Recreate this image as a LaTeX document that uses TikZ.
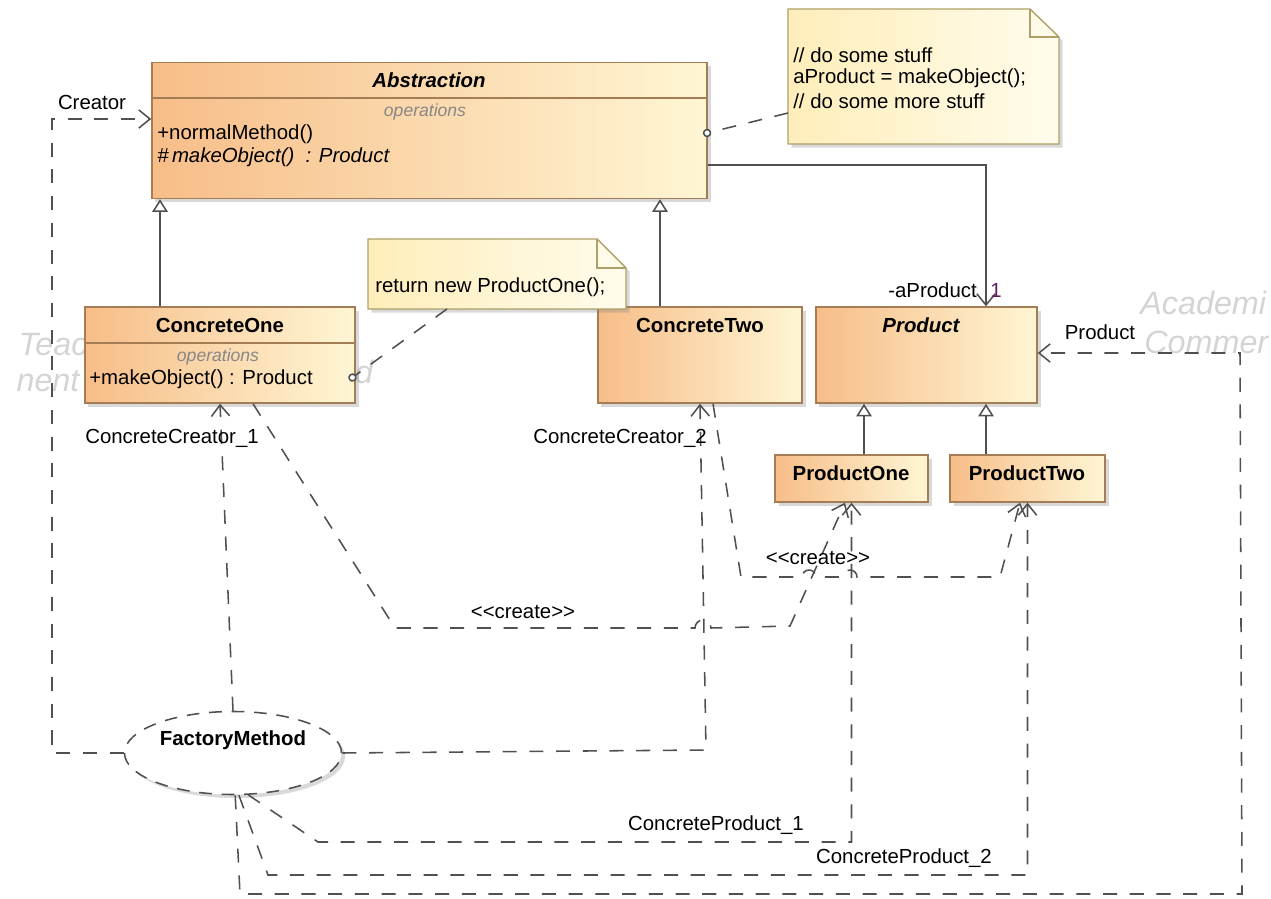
\documentclass[tikz,border=0pt]{standalone}
\usepackage{fontspec}
\setmainfont{Liberation Sans}
\usetikzlibrary{arrows.meta, shapes.geometric, shadows}

\definecolor{clsleft}{RGB}{247,189,136}
\definecolor{clsright}{RGB}{255,246,212}
\definecolor{clsborder}{RGB}{165,125,85}
\definecolor{noteleft}{RGB}{255,238,186}
\definecolor{noteright}{RGB}{255,252,236}
\definecolor{noteborder}{RGB}{175,160,105}
\definecolor{wiregray}{RGB}{80,80,80}
\definecolor{opsgray}{RGB}{135,135,135}
\definecolor{wmgray}{RGB}{212,212,212}
\definecolor{multpurple}{RGB}{95,30,95}

\begin{document}
\begin{tikzpicture}[
		x=0.025cm, y=-0.025cm,
		every node/.style={inner sep=0pt, font=\fontsize{14.5}{17}\selectfont},
		cls/.style={rectangle, draw=clsborder, line width=1pt, left color=clsleft, right color=clsright, drop shadow={shadow xshift=2.5pt, shadow yshift=-2.5pt, opacity=0.3}},
		notebg/.style={draw=noteborder, line width=1pt, left color=noteleft, right color=noteright, drop shadow={shadow xshift=2.5pt, shadow yshift=-2.5pt, opacity=0.3}},
		usecase/.style={ellipse, draw=wiregray, line width=1.1pt, dash pattern=on 9pt off 7pt, fill=white, drop shadow={shadow xshift=2.5pt, shadow yshift=-2.5pt, opacity=0.3}},
		wire/.style={draw=wiregray, line width=1.1pt},
		dep/.style={wire, dash pattern=on 10pt off 9pt, -{Straight Barb[length=8pt, width=13pt]}},
		gen/.style={wire, -{Triangle[open, length=9pt, width=11pt, fill=white]}},
		assoc/.style={wire, -{Straight Barb[length=8pt, width=13pt]}},
		noteln/.style={wire, dash pattern=on 10pt off 9pt, -{Circle[open, length=6pt, fill=white]}},
		ops/.style={text=opsgray, font=\fontsize{12.5}{14}\selectfont\itshape},
		wm/.style={text=wmgray, font=\fontsize{23}{26}\selectfont\itshape}
	]
  \useasboundingbox (0,0) rectangle (1271,899);

  \node (wm1) [wm] at (53,345) {Teac};
  \node (wm2) [wm] at (48,381) {nent};
  \node (wm3) [wm] at (364,372) {d};
  \node (wm4) [wm, anchor=west] at (1140,303) {Academi};
  \node (wm5) [wm, anchor=west] at (1144,342) {Commer};

  \node (abs) [cls, minimum width=13.875cm, minimum height=3.4cm] at (429.5,130.5) {};
  \node (c1) [cls, minimum width=6.75cm, minimum height=2.4cm] at (220,355) {};
  \node (c2) [cls, minimum width=5.1cm, minimum height=2.4cm] at (700,355) {};
  \node (pr) [cls, minimum width=5.525cm, minimum height=2.4cm] at (926.5,355) {};
  \node (p1) [cls, minimum width=3.825cm, minimum height=1.175cm] at (851.5,478.5) {};
  \node (p2) [cls, minimum width=3.875cm, minimum height=1.175cm] at (1027.5,478.5) {};
  \node (fm) [usecase, minimum width=5.425cm, minimum height=2.075cm] at (233,753) {};

  \draw[draw=clsborder, line width=1pt] (abs.west |- 0,98) -- (abs.east |- 0,98);
  \draw[draw=clsborder, line width=1pt] (c1.west |- 0,343) -- (c1.east |- 0,343);

  \node (absname) at (429,80) {\bfseries\itshape Abstraction};
  \node (absops) [ops] at (425,112) {operations};
  \node (absm1) [anchor=west] at (157,134) {+normalMethod()};
  \node (absm2) [anchor=west] at (157,157) {\itshape\#\,makeObject()\ \ : Product};
  \node (c1name) at (220,325) {\bfseries ConcreteOne};
  \node (c1ops) [ops] at (218,357) {operations};
  \node (c1m1) [anchor=west] at (89,379) {+makeObject() : Product};
  \node (c2name) at (700,325) {\bfseries ConcreteTwo};
  \node (prname) at (921,325) {\bfseries\itshape Product};
  \node (p1name) at (851,473) {\bfseries ProductOne};
  \node (p2name) at (1027,473) {\bfseries ProductTwo};
  \node (fmname) at (233,740) {\bfseries FactoryMethod};

  \path[notebg] (788,9) -- (1030,9) -- (1059,37) -- (1059,144) -- (788,144) -- cycle;
  \draw[draw=noteborder, line width=1pt] (1030,9) -- (1030,37) -- (1059,37);
  \node (n1l1) [anchor=west] at (793,55) {// do some stuff};
  \node (n1l2) [anchor=west] at (793,78) {aProduct = makeObject();};
  \node (n1l3) [anchor=west] at (793,101) {// do some more stuff};
  \coordinate (n1) at (788,113);
  \coordinate (absanc) at (703,134);

  \path[notebg] (368,239) -- (597,239) -- (626,268) -- (626,309) -- (368,309) -- cycle;
  \draw[draw=noteborder, line width=1pt] (597,239) -- (597,268) -- (626,268);
  \node (n2l1) [anchor=west] at (375,287) {return new ProductOne();};
  \coordinate (n2) at (447,309);
  \coordinate (c1anc) at (349,380);

  \draw[noteln] (n1) -- (absanc);
  \draw[noteln] (n2) -- (c1anc);

  \draw[gen] (c1.north -| 160,0) -- (abs.south -| 160,0);
  \draw[gen] (c2.north -| 660,0) -- (abs.south -| 660,0);
  \draw[gen] (p1.north -| 864,0) -- (pr.south -| 864,0);
  \draw[gen] (p2.north -| 986,0) -- (pr.south -| 986,0);
  \draw[assoc] (abs.east |- 0,165) -- (986,165) -- (pr.north -| 986,0);
  \node (aprod) [anchor=east] at (977,290) {-aProduct};
  \node (amult) [text=multpurple] at (996,290) {1};

  \draw[dep] (fm.west) -- (fm.west -| 52,0) -- (52,119) -- (abs.west |- 0,119);
  \node (lcreator) at (92,102) {Creator};
  \draw[dep] (fm.north) -- (c1.south);
  \node (lcc1) at (172,438) {ConcreteCreator\_1};
  \draw[dep] (fm.east) -- (706,750) -- (c2.south);
  \node (lcc2) at (620,438) {ConcreteCreator\_2};

  \draw[dep] (c1.south -| 253,0) -- (395,628) -- (695,628) arc (180:360:8) -- (790,626) -- (p1.south -| 845,0);
  \node (lcreate1) at (523,612) {<{}<create>{}>};
  \draw[dep] (c2.south -| 713,0) -- (741,577) -- (802,577) arc (180:360:7) -- (843,577) arc (180:360:7) -- (1000,577) -- (p2.south -| 1020,0);
  \node (lcreate2) at (818,558) {<{}<create>{}>};

  \draw[dep] (fm.-70) -- (318,842) -- (p1.south |- 0,842) -- (p1.south);
  \node (lcp1) at (716,825) {ConcreteProduct\_1};
  \draw[dep] (fm.-82) -- (268,875) -- (p2.south |- 0,875) -- (p2.south);
  \node (lcp2) at (904,858) {ConcreteProduct\_2};
  \draw[dep] (fm.-87) -- (240,894) -- (1242,894) -- (1240,353) -- (pr.east |- 0,353);
  \node (lprod) at (1100,332) {Product};
\end{tikzpicture}
\end{document}
